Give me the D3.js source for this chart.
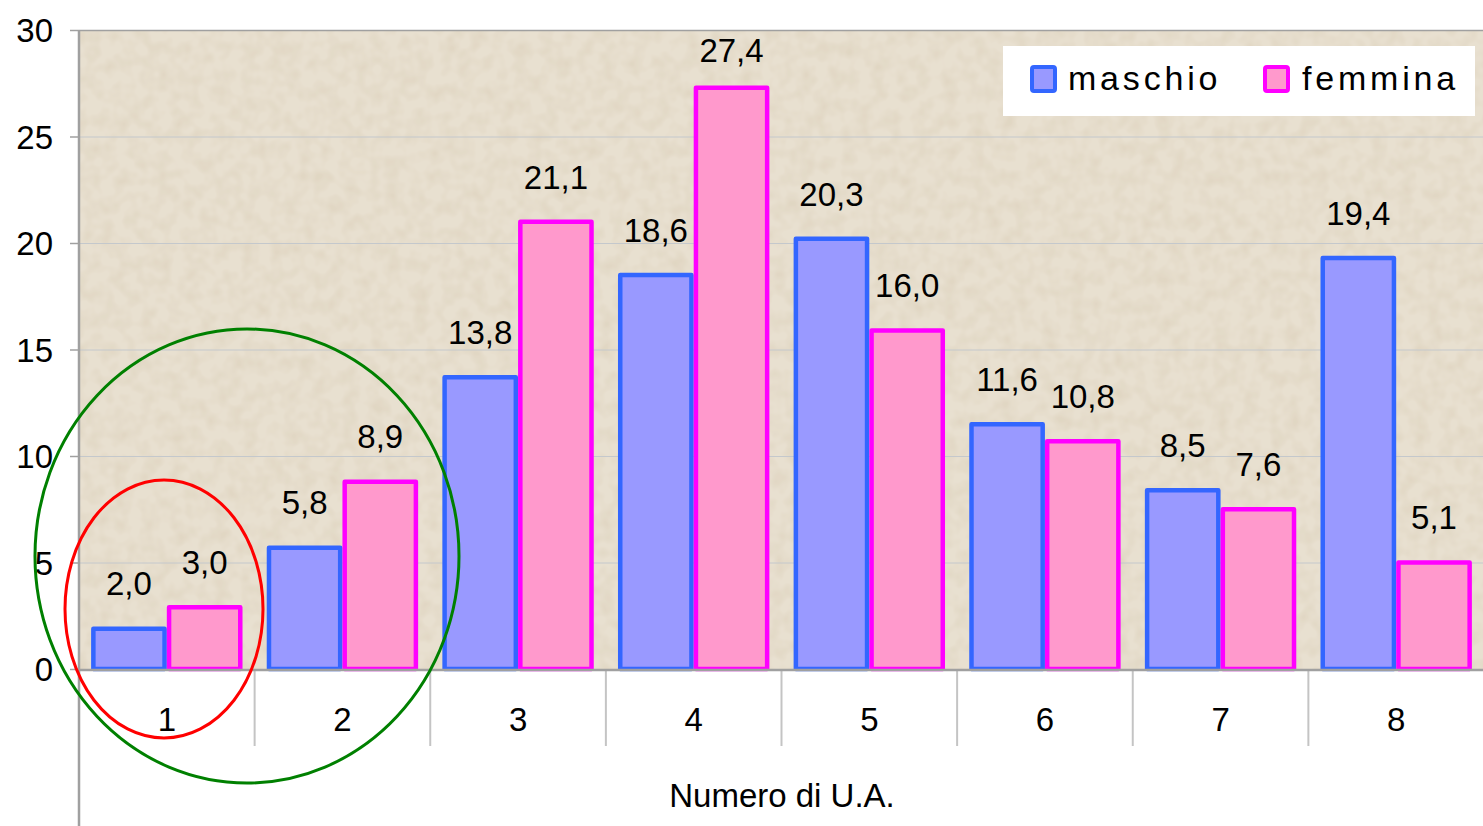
<!DOCTYPE html>
<html>
<head>
<meta charset="utf-8">
<script src="https://cdn.jsdelivr.net/npm/d3@7"></script>
<style>
  html, body { margin: 0; padding: 0; background: #ffffff; }
  svg { display: block; font-family: "Liberation Sans", Arial, sans-serif; }
</style>
</head>
<body>
<svg id="chart" width="1483" height="826"></svg>
<script>
// Distribution by number of U.A., split by sex (percent)
const categories = ["1", "2", "3", "4", "5", "6", "7", "8"];
const maschio = [2.0, 5.8, 13.8, 18.6, 20.3, 11.6, 8.5, 19.4];
const femmina = [3.0, 8.9, 21.1, 27.4, 16.0, 10.8, 7.6, 5.1];
const seriesNames = ["maschio", "femmina"];
const yTicks = [0, 5, 10, 15, 20, 25, 30];
const xTitle = "Numero di U.A.";

const W = 1483, H = 826;
const plot = { left: 79, top: 30, right: 1484, bottom: 669 };

const svg = d3.select("#chart");

const x = d3.scaleBand().domain(categories).range([plot.left, plot.right]).paddingInner(0).paddingOuter(0);
const xs = d3.scaleBand().domain(seriesNames).range([0, x.bandwidth()]).paddingInner(0).paddingOuter(0.16);
const y = d3.scaleLinear().domain([0, 30]).range([plot.bottom, plot.top]);

// Paper-like textured background of the plot area
const defs = svg.append("defs");
const filt = defs.append("filter").attr("id", "paper").attr("x", 0).attr("y", 0).attr("width", 1).attr("height", 1);
filt.append("feTurbulence").attr("type", "fractalNoise").attr("baseFrequency", 0.07).attr("numOctaves", 2).attr("seed", 7).attr("result", "noise");
filt.append("feColorMatrix").attr("in", "noise").attr("type", "matrix")
  .attr("values", "0 0 0 0 0.90  0 0 0 0 0.865  0 0 0 0 0.80  0 0 0 -1.6 1.0").attr("result", "tint");
filt.append("feFlood").attr("flood-color", "#e8e0d0").attr("result", "base");
filt.append("feBlend").attr("in", "base").attr("in2", "tint").attr("mode", "multiply");

svg.append("rect")
  .attr("x", plot.left).attr("y", plot.top)
  .attr("width", plot.right - plot.left).attr("height", plot.bottom - plot.top)
  .attr("fill", "#e8e0d0");
svg.append("rect")
  .attr("x", plot.left).attr("y", plot.top)
  .attr("width", plot.right - plot.left).attr("height", plot.bottom - plot.top)
  .attr("fill", "#e8e0d0").attr("filter", "url(#paper)").attr("opacity", 0.8);

// Horizontal gridlines
svg.append("g").selectAll("line").data(yTicks.filter(d => d > 0 && d < 30)).join("line")
  .attr("x1", plot.left).attr("x2", plot.right)
  .attr("y1", d => y(d) + 0.5).attr("y2", d => y(d) + 0.5)
  .attr("stroke", "#c4c8cc").attr("stroke-width", 1);
// Top border of the plot area
svg.append("line").attr("x1", plot.left).attr("x2", plot.right)
  .attr("y1", plot.top + 0.5).attr("y2", plot.top + 0.5)
  .attr("stroke", "#a0a0a0").attr("stroke-width", 1.5);

// Y axis
const yAxis = d3.axisLeft(y).tickValues(yTicks).tickSize(9).tickPadding(17).tickFormat(d3.format("d"));
const gy = svg.append("g").attr("transform", `translate(${plot.left},0)`).call(yAxis);
gy.select(".domain").remove();
gy.selectAll(".tick line").attr("stroke", "#a0a0a0").attr("stroke-width", 1.5);
gy.selectAll(".tick text").attr("fill", "#000").attr("font-size", 33)
  .attr("font-family", "Liberation Sans, Arial, sans-serif").attr("dy", "0.35em");
svg.append("line").attr("x1", plot.left).attr("x2", plot.left)
  .attr("y1", plot.top).attr("y2", H)
  .attr("stroke", "#a0a0a0").attr("stroke-width", 2.5);

// Category separators below the axis
svg.append("g").selectAll("line").data(categories.slice(1)).join("line")
  .attr("x1", d => x(d)).attr("x2", d => x(d))
  .attr("y1", plot.bottom).attr("y2", 746)
  .attr("stroke", "#c4c4c4").attr("stroke-width", 2);

// Bars
const colors = {
  maschio: { fill: "#9999ff", stroke: "#3366ff" },
  femmina: { fill: "#ff99cc", stroke: "#ff00ff" }
};
const rows = categories.map((c, i) => ({ cat: c, values: [
  { key: "maschio", value: maschio[i] },
  { key: "femmina", value: femmina[i] }
]}));

const groups = svg.append("g").selectAll("g").data(rows).join("g")
  .attr("transform", d => `translate(${x(d.cat)},0)`);
const sw = 4.5;
groups.selectAll("rect").data(d => d.values).join("rect")
  .attr("x", d => xs(d.key) + sw / 2)
  .attr("width", xs.bandwidth() - sw)
  .attr("y", d => y(d.value) + sw / 2)
  .attr("height", d => y(0) - y(d.value) - sw / 2)
  .attr("fill", d => colors[d.key].fill)
  .attr("stroke", d => colors[d.key].stroke)
  .attr("stroke-width", sw)
  .attr("stroke-linejoin", "round");

// X axis line
svg.append("line").attr("x1", plot.left).attr("x2", plot.right)
  .attr("y1", plot.bottom + 1).attr("y2", plot.bottom + 1)
  .attr("stroke", "#a0a0a0").attr("stroke-width", 2.5);

// Value labels (kept inside the plot area near the top)
const fmt = v => d3.format(".1f")(v).replace(".", ",");
groups.selectAll("text.val").data(d => d.values).join("text")
  .attr("class", "val")
  .attr("x", d => xs(d.key) + xs.bandwidth() / 2)
  .attr("y", d => Math.max(y(d.value) - 31, plot.top + 32))
  .attr("text-anchor", "middle")
  .attr("font-size", 33)
  .attr("fill", "#000")
  .text(d => fmt(d.value));

// Category labels
svg.append("g").selectAll("text").data(categories).join("text")
  .attr("x", d => x(d) + x.bandwidth() / 2)
  .attr("y", 731)
  .attr("text-anchor", "middle")
  .attr("font-size", 33)
  .attr("fill", "#000")
  .text(d => d);

// Axis title
svg.append("text")
  .attr("x", 782).attr("y", 807)
  .attr("text-anchor", "middle")
  .attr("font-size", 33)
  .attr("fill", "#000")
  .text(xTitle);

// Legend
const lg = svg.append("g");
lg.append("rect").attr("x", 1003).attr("y", 46).attr("width", 472).attr("height", 70).attr("fill", "#fff");
const legendItems = [
  { key: "maschio", sx: 1032, tx: 1068 },
  { key: "femmina", sx: 1265, tx: 1302 }
];
legendItems.forEach(it => {
  lg.append("rect").attr("x", it.sx).attr("y", 67).attr("width", 23).attr("height", 24)
    .attr("rx", 2)
    .attr("fill", colors[it.key].fill).attr("stroke", colors[it.key].stroke).attr("stroke-width", 4);
  lg.append("text").attr("x", it.tx).attr("y", 90)
    .attr("font-size", 34).attr("letter-spacing", 3.8).attr("fill", "#000")
    .text(it.key);
});

// Highlight ellipses around the first categories
svg.append("ellipse").attr("cx", 247).attr("cy", 556).attr("rx", 212).attr("ry", 227)
  .attr("fill", "none").attr("stroke", "#008000").attr("stroke-width", 3);
svg.append("ellipse").attr("cx", 164).attr("cy", 609).attr("rx", 99).attr("ry", 129)
  .attr("fill", "none").attr("stroke", "#ff0000").attr("stroke-width", 3);
</script>
</body>
</html>
